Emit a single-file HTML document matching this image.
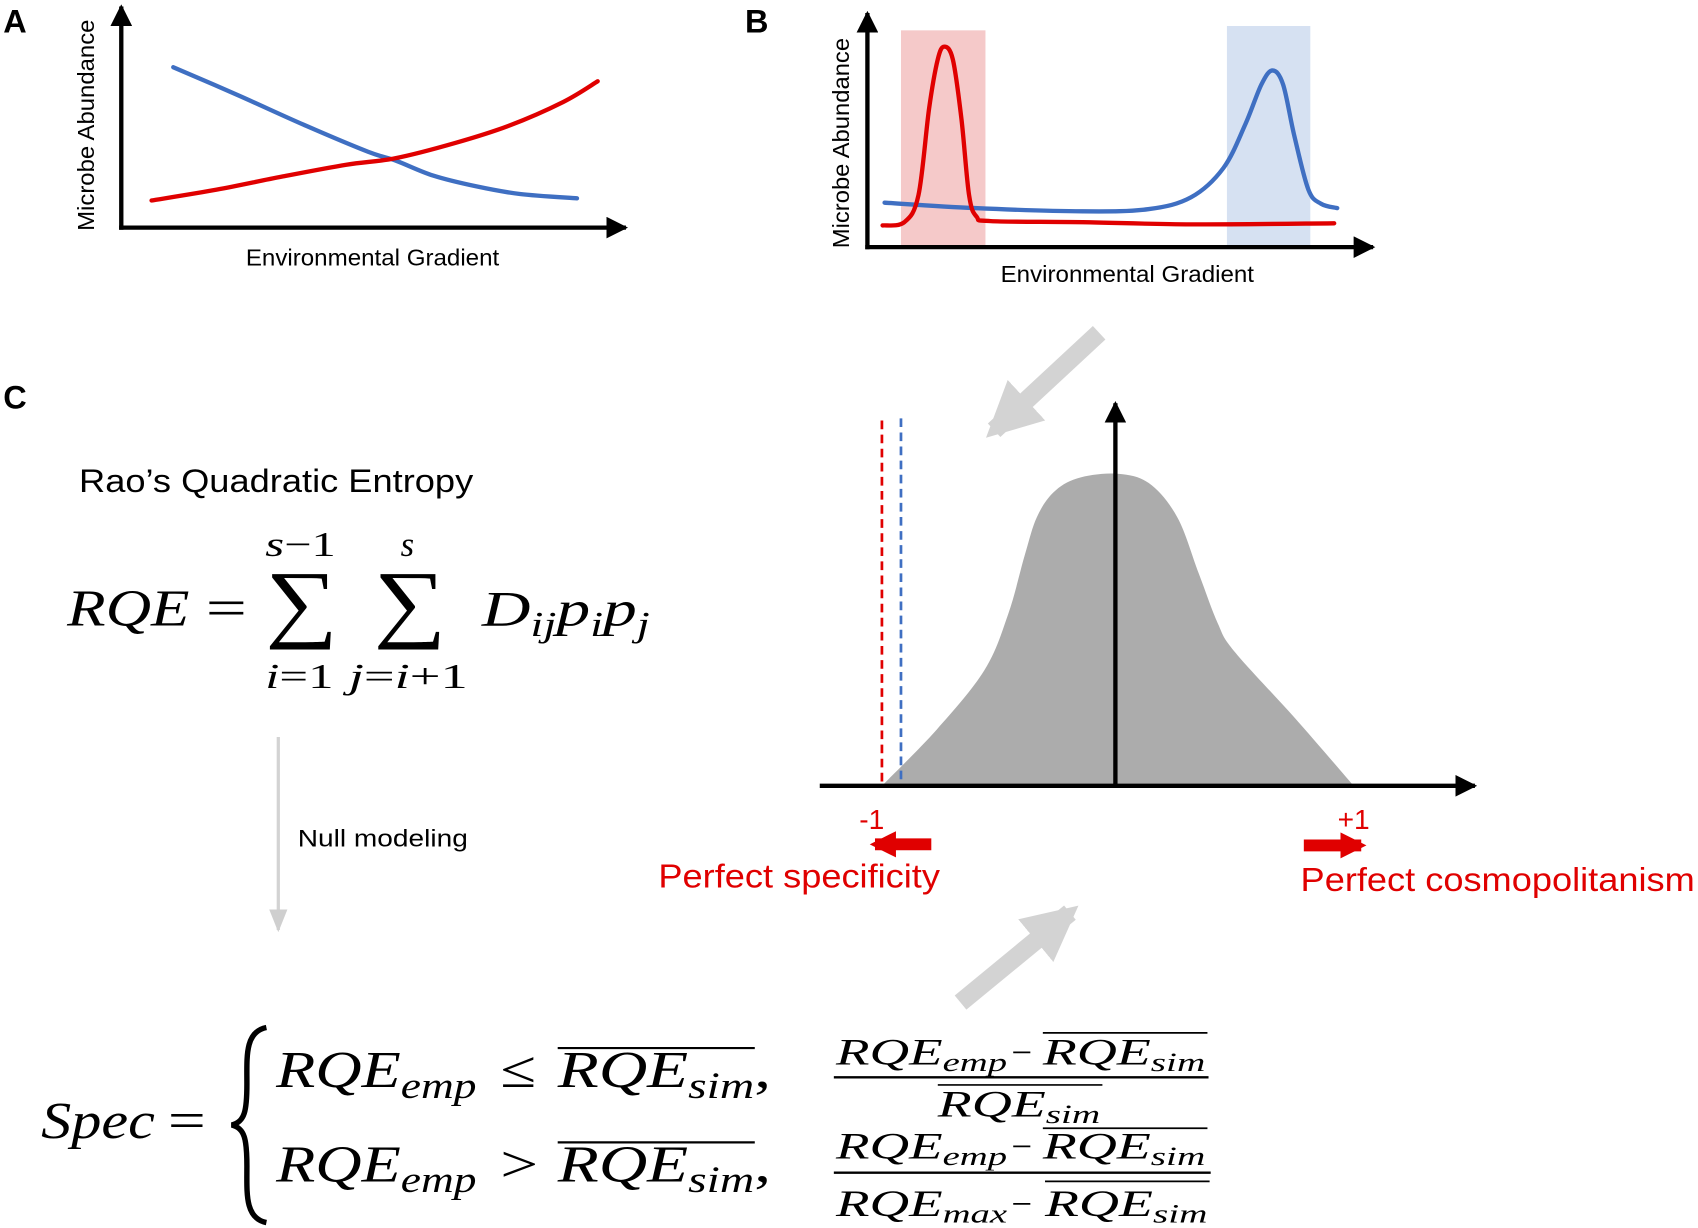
<!DOCTYPE html>
<html><head><meta charset="utf-8"><style>
html,body{margin:0;padding:0;background:#fff;}
svg{display:block;}
.sans{font-family:"Liberation Sans",Arial,sans-serif;}
.m{font-family:"Liberation Serif","DejaVu Serif",serif;font-style:italic;}
.r{font-family:"Liberation Serif","DejaVu Serif",serif;font-style:normal;}
</style></head><body>
<svg id="fig" width="1698" height="1228" viewBox="0 0 1568 1133" preserveAspectRatio="none" xmlns="http://www.w3.org/2000/svg">
<defs>
<marker id="ah" viewBox="0 0 10 10" refX="9" refY="5" markerWidth="5" markerHeight="5" orient="auto"><path d="M0,0 L10,5 L0,10 z" fill="#000"/></marker>
<marker id="ahg" viewBox="0 0 10 10" refX="8" refY="5" markerWidth="3" markerHeight="3" orient="auto"><path d="M0,0 L10,5 L0,10 z" fill="#d3d3d3"/></marker>
<marker id="ahs" viewBox="0 0 10 10" refX="9" refY="5" markerWidth="7" markerHeight="7" orient="auto"><path d="M0,1 L10,5 L0,9 z" fill="#cfcfcf"/></marker>
<marker id="ahr" viewBox="0 0 10 10" refX="8" refY="5" markerWidth="2.2" markerHeight="2.2" orient="auto"><path d="M0,0 L10,5 L0,10 z" fill="#e00000"/></marker>
</defs>

<!-- Panel A -->
<g>
<text x="3" y="30" class="sans" font-size="30" font-weight="bold">A</text>
<line x1="112" y1="212" x2="112" y2="6" stroke="#000" stroke-width="4" marker-end="url(#ah)"/>
<line x1="110" y1="210" x2="578" y2="210" stroke="#000" stroke-width="4" marker-end="url(#ah)"/>
<text transform="translate(87,213) rotate(-90)" class="sans" font-size="21" textLength="195" lengthAdjust="spacingAndGlyphs">Microbe Abundance</text>
<text x="227" y="245" class="sans" font-size="21" textLength="234" lengthAdjust="spacingAndGlyphs">Environmental Gradient</text>
<g id="a-lines"></g>
</g>

<!-- Panel B -->
<g>
<text x="688" y="30" class="sans" font-size="30" font-weight="bold">B</text>
<rect x="832" y="28" width="78" height="200" fill="#f5c9c9"/>
<rect x="1133" y="24" width="77" height="204" fill="#d6e1f2"/>
<line x1="801" y1="230" x2="801" y2="12" stroke="#000" stroke-width="4" marker-end="url(#ah)"/>
<line x1="799" y1="228" x2="1268" y2="228" stroke="#000" stroke-width="4" marker-end="url(#ah)"/>
<text transform="translate(784,229) rotate(-90)" class="sans" font-size="21" textLength="194" lengthAdjust="spacingAndGlyphs">Microbe Abundance</text>
<text x="924" y="260" class="sans" font-size="21" textLength="234" lengthAdjust="spacingAndGlyphs">Environmental Gradient</text>
<g id="b-lines"></g>
</g>

<!-- gray connector arrows -->
<line x1="1015" y1="307" x2="918" y2="397" stroke="#d3d3d3" stroke-width="17" marker-end="url(#ahg)"/>
<line x1="887" y1="925" x2="988" y2="842" stroke="#d3d3d3" stroke-width="17" marker-end="url(#ahg)"/>

<!-- Panel C -->
<g>
<text x="3" y="377" class="sans" font-size="30" font-weight="bold">C</text>
<text x="73" y="454" class="sans" font-size="30" textLength="364" lengthAdjust="spacingAndGlyphs">Rao’s Quadratic Entropy</text>
<g>
<text x="62" y="577" class="m" font-size="48" textLength="113" lengthAdjust="spacingAndGlyphs">RQE</text>
<text x="190" y="577" class="r" font-size="48" textLength="38" lengthAdjust="spacingAndGlyphs">=</text>
<text x="245" y="582" class="r" font-size="80" textLength="67" lengthAdjust="spacingAndGlyphs">∑</text>
<text x="345" y="582" class="r" font-size="80" textLength="67" lengthAdjust="spacingAndGlyphs">∑</text>
<text x="245" y="513" class="m" font-size="32" textLength="65" lengthAdjust="spacingAndGlyphs">s<tspan class="r">−1</tspan></text>
<text x="370" y="513" class="m" font-size="32">s</text>
<text x="245" y="635" class="m" font-size="32" textLength="63" lengthAdjust="spacingAndGlyphs">i<tspan class="r">=1</tspan></text>
<text x="322" y="635" class="m" font-size="32" textLength="110" lengthAdjust="spacingAndGlyphs">j<tspan class="r">=</tspan>i<tspan class="r">+1</tspan></text>
<text x="445" y="577" class="m" font-size="46" textLength="155" lengthAdjust="spacingAndGlyphs">D<tspan font-size="32" dy="10">ij</tspan><tspan dy="-10">p</tspan><tspan font-size="32" dy="10">i</tspan><tspan dy="-10">p</tspan><tspan font-size="32" dy="10">j</tspan></text>
</g>
<line x1="257" y1="680" x2="257" y2="858" stroke="#d3d3d3" stroke-width="3" marker-end="url(#ahs)"/>
<text x="275" y="781" class="sans" font-size="22" textLength="157" lengthAdjust="spacingAndGlyphs">Null modeling</text>

<g>
<text x="38" y="1050" class="m" font-size="48" textLength="105" lengthAdjust="spacingAndGlyphs">Spec</text>
<text x="155" y="1050" class="r" font-size="48" textLength="35" lengthAdjust="spacingAndGlyphs">=</text>
<path d="M246,948 C226,952 228,975 228,1000 C228,1025 226,1035 214,1038 C226,1041 228,1051 228,1076 C228,1101 226,1124 246,1128" fill="none" stroke="#000" stroke-width="5"/>
<text x="255" y="1003" class="m" font-size="48" textLength="185" lengthAdjust="spacingAndGlyphs">RQE<tspan font-size="34" dy="10">emp</tspan></text>
<text x="462" y="1003" class="r" font-size="48" textLength="33" lengthAdjust="spacingAndGlyphs">≤</text>
<text x="515" y="1003" class="m" font-size="48" textLength="197" lengthAdjust="spacingAndGlyphs">RQE<tspan font-size="34" dy="10">sim</tspan><tspan class="r" dy="-10">,</tspan></text>
<line x1="515" y1="967" x2="697" y2="967" stroke="#000" stroke-width="2"/>
<text x="255" y="1090" class="m" font-size="48" textLength="185" lengthAdjust="spacingAndGlyphs">RQE<tspan font-size="34" dy="10">emp</tspan></text>
<text x="462" y="1090" class="r" font-size="48" textLength="35" lengthAdjust="spacingAndGlyphs">&gt;</text>
<text x="515" y="1090" class="m" font-size="48" textLength="197" lengthAdjust="spacingAndGlyphs">RQE<tspan font-size="34" dy="10">sim</tspan><tspan class="r" dy="-10">,</tspan></text>
<line x1="515" y1="1054" x2="697" y2="1054" stroke="#000" stroke-width="2"/>

<text x="772" y="982" class="m" font-size="34" textLength="158" lengthAdjust="spacingAndGlyphs">RQE<tspan font-size="24" dy="6">emp</tspan></text>
<text x="934" y="982" class="r" font-size="34">−</text>
<text x="963" y="982" class="m" font-size="34" textLength="150" lengthAdjust="spacingAndGlyphs">RQE<tspan font-size="24" dy="6">sim</tspan></text>
<line x1="963" y1="953" x2="1115" y2="953" stroke="#000" stroke-width="1.6"/>
<line x1="770" y1="994" x2="1116" y2="994" stroke="#000" stroke-width="2.2"/>
<text x="866" y="1030" class="m" font-size="34" textLength="150" lengthAdjust="spacingAndGlyphs">RQE<tspan font-size="24" dy="6">sim</tspan></text>
<line x1="866" y1="1001" x2="1018" y2="1001" stroke="#000" stroke-width="1.6"/>

<text x="772" y="1069" class="m" font-size="34" textLength="158" lengthAdjust="spacingAndGlyphs">RQE<tspan font-size="24" dy="6">emp</tspan></text>
<text x="934" y="1069" class="r" font-size="34">−</text>
<text x="963" y="1069" class="m" font-size="34" textLength="150" lengthAdjust="spacingAndGlyphs">RQE<tspan font-size="24" dy="6">sim</tspan></text>
<line x1="963" y1="1041" x2="1115" y2="1041" stroke="#000" stroke-width="1.6"/>
<line x1="770" y1="1082" x2="1118" y2="1082" stroke="#000" stroke-width="2.2"/>
<text x="772" y="1122" class="m" font-size="34" textLength="158" lengthAdjust="spacingAndGlyphs">RQE<tspan font-size="24" dy="6">max</tspan></text>
<text x="934" y="1122" class="r" font-size="34">−</text>
<text x="965" y="1122" class="m" font-size="34" textLength="150" lengthAdjust="spacingAndGlyphs">RQE<tspan font-size="24" dy="6">sim</tspan></text>
<line x1="965" y1="1090" x2="1117" y2="1090" stroke="#000" stroke-width="1.6"/>
</g>

<g id="c-chart"></g>
<line x1="757" y1="725" x2="1362" y2="725" stroke="#000" stroke-width="4" marker-end="url(#ah)"/>
<line x1="1030" y1="727" x2="1030" y2="372" stroke="#000" stroke-width="4" marker-end="url(#ah)"/>
<text x="805" y="765" text-anchor="middle" class="sans" font-size="26" fill="#e00000">-1</text>
<text x="1250" y="765" text-anchor="middle" class="sans" font-size="26" fill="#e00000">+1</text>
<line x1="860" y1="779" x2="808" y2="779" stroke="#e00000" stroke-width="11" marker-end="url(#ahr)"/>
<line x1="1204" y1="780" x2="1257" y2="780" stroke="#e00000" stroke-width="11" marker-end="url(#ahr)"/>
<text x="608" y="819" class="sans" font-size="31" fill="#e00000" textLength="260" lengthAdjust="spacingAndGlyphs">Perfect specificity</text>
<text x="1201" y="822" class="sans" font-size="31" fill="#e00000" textLength="364" lengthAdjust="spacingAndGlyphs">Perfect cosmopolitanism</text>
</g>
</svg>
<script>
// Panel A data (x 0-100 along gradient, y 0-100 abundance)
const aBlueX = [10.3, 23.2, 36.1, 48.9, 54.3, 61.8, 70.4, 79, 90.3];
const aBlueY = [74, 61, 47.5, 35, 31, 24, 19, 15.5, 13.5];
const aRedX = [6, 18.9, 31.8, 44.6, 54.3, 66.1, 76.8, 87.6, 94.4];
const aRedY = [12.5, 17.5, 23.5, 29, 32, 39, 47, 58, 67.5];
// Panel B data
const bRedX = [3, 7.3, 10.1, 12.2, 13.9, 15.2, 16.9, 18.6, 20.1, 21.6, 24.4, 42.6, 64, 92.3];
const bRedY = [10, 11.5, 24, 64, 86.5, 92.5, 86.5, 59, 24, 14, 12, 11.5, 10.5, 11];
const bBlueX = [3.4, 21.2, 42.6, 55.5, 64, 70.4, 74.7, 77.9, 80.1, 82.2, 84.4, 87.2, 89.7, 92.9];
const bBlueY = [20.5, 18, 16.5, 17.5, 23, 36.5, 56.5, 75, 81.5, 75, 51.5, 26.5, 20, 18];
// Panel C distribution (x: spec -1..+1, y: density 0..100)
const cDistX = [-0.98, -0.75, -0.55, -0.45, -0.38, -0.33, -0.26, -0.16, 0.0, 0.14, 0.26, 0.35, 0.43, 0.50, 0.75, 1.0];
const cDistY = [0, 18, 37, 55, 74, 86, 94, 98.5, 100, 97, 86, 68, 52, 43, 22, 0];
const cRedLine = -0.98;
const cBlueLine = -0.90;

const NS = 'http://www.w3.org/2000/svg';
const xA = v => 112 + v * 4.66, yA = v => 210 - v * 2;
const xB = v => 801 + v * 4.67, yB = v => 228 - v * 2;
const xC = v => 1030 + v * 220, yC = v => 725 - v * 2.88;

function smooth(xs, ys, fx, fy) {
  const p = xs.map((x, i) => [fx(x), fy(ys[i])]);
  let d = 'M' + p[0][0] + ',' + p[0][1];
  for (let i = 0; i < p.length - 1; i++) {
    const p0 = p[i - 1] || p[i], p1 = p[i], p2 = p[i + 1], p3 = p[i + 2] || p2;
    const c1x = p1[0] + (p2[0] - p0[0]) / 6, c1y = p1[1] + (p2[1] - p0[1]) / 6;
    const c2x = p2[0] - (p3[0] - p1[0]) / 6, c2y = p2[1] - (p3[1] - p1[1]) / 6;
    d += ' C' + c1x + ',' + c1y + ' ' + c2x + ',' + c2y + ' ' + p2[0] + ',' + p2[1];
  }
  return d;
}
function addPath(gid, d, stroke, fill, w) {
  const el = document.createElementNS(NS, 'path');
  el.setAttribute('d', d);
  el.setAttribute('stroke', stroke);
  el.setAttribute('fill', fill);
  el.setAttribute('stroke-width', w);
  el.setAttribute('stroke-linecap', 'round');
  document.getElementById(gid).appendChild(el);
  return el;
}
let e;
e = addPath('a-lines', smooth(aBlueX, aBlueY, xA, yA), '#3f6fc2', 'none', 4);


e = addPath('a-lines', smooth(aRedX, aRedY, xA, yA), '#e00000', 'none', 4);


e = addPath('b-lines', smooth(bBlueX, bBlueY, xB, yB), '#3f6fc2', 'none', 4);


e = addPath('b-lines', smooth(bRedX, bRedY, xB, yB), '#e00000', 'none', 4);


let dd = smooth(cDistX, cDistY, xC, yC) + ' Z';
e = addPath('c-chart', dd, 'none', '#acacac', 0);


e = addPath('c-chart', 'M' + xC(cRedLine) + ',388 L' + xC(cRedLine) + ',725', '#e00000', 'none', 2.5);
e.setAttribute('stroke-dasharray', '8,5');
e.setAttribute('stroke-linecap', 'butt');


e = addPath('c-chart', 'M' + xC(cBlueLine) + ',386 L' + xC(cBlueLine) + ',725', '#3f6fc2', 'none', 2.5);
e.setAttribute('stroke-dasharray', '8,5');
e.setAttribute('stroke-linecap', 'butt');


</script>
</body></html>
